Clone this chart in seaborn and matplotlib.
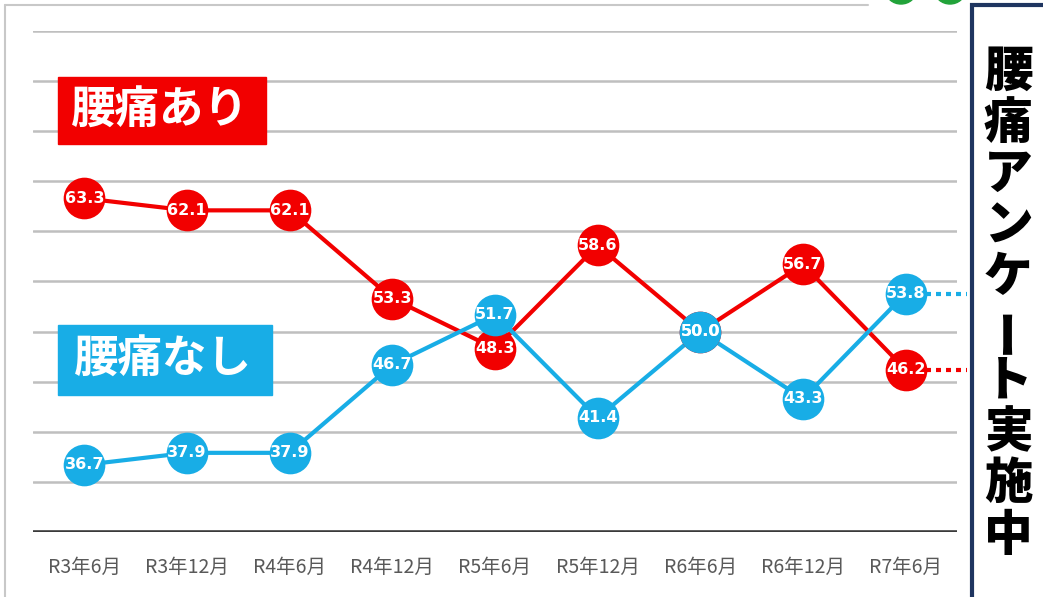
import pandas as pd
import seaborn as sns
import matplotlib.pyplot as plt
from matplotlib.patches import Ellipse, Rectangle

# Data
periods = ["R3年6月", "R3年12月", "R4年6月", "R4年12月", "R5年6月",
           "R5年12月", "R6年6月", "R6年12月", "R7年6月"]
pain_yes = [63.3, 62.1, 62.1, 53.3, 48.3, 58.6, 50.0, 56.7, 46.2]
pain_no = [36.7, 37.9, 37.9, 46.7, 51.7, 41.4, 50.0, 43.3, 53.8]
series_names = ["腰痛あり", "腰痛なし"]
series_colors = ["#f20000", "#18ade6"]

df = pd.DataFrame({
    "x": list(range(len(periods))) * 2,
    "value": pain_yes + pain_no,
    "series": [series_names[0]] * len(periods) + [series_names[1]] * len(periods),
})

sns.set_style("white")
plt.rcParams["font.family"] = ["Noto Sans CJK JP", "DejaVu Sans"]

W, H = 1043, 597
fig = plt.figure(figsize=(W / 100, H / 100), dpi=100)
ax = fig.add_axes([33 / W, (H - 532) / H, (957 - 33) / W, (532 - 31) / H])

# light gray gridlines
for yv in range(35, 81, 5):
    ax.axhline(yv, color="#bfbfbf", lw=1.8, zorder=0)
ax.axhline(30, color="#3a3a3a", lw=2.6, zorder=1)

palette = dict(zip(series_names, series_colors))
sns.lineplot(data=df, x="x", y="value", hue="series", palette=palette,
             lw=3.0, legend=False, ax=ax, zorder=2)
for name, vals in zip(series_names, [pain_yes, pain_no]):
    ax.scatter(range(len(periods)), vals, s=30 ** 2, color=palette[name],
               zorder=3, linewidths=0)
    for i, v in enumerate(vals):
        ax.text(i, v, f"{v:.1f}", color="white", ha="center", va="center",
                fontsize=11.5, fontweight="bold", family="DejaVu Sans", zorder=4)

ax.set_xlim(-0.5, len(periods) - 0.5)
ax.set_ylim(30, 80)
ax.set_yticks([])
ax.set_xticks(range(len(periods)))
ax.set_xticklabels(periods, fontsize=14, color="#595959")
ax.tick_params(axis="x", length=0, pad=18)
ax.set_xlabel("")
ax.set_ylabel("")
for s in ax.spines.values():
    s.set_visible(False)

# dotted connectors to the side panel
last = len(periods) - 1
ax.plot([last + 0.2, last + 0.6], [pain_no[-1]] * 2, ls=(0, (1.2, 1.2)),
        color=series_colors[1], lw=3, clip_on=False, zorder=2)
ax.plot([last + 0.2, last + 0.6], [pain_yes[-1]] * 2, ls=(0, (1.2, 1.2)),
        color=series_colors[0], lw=3, clip_on=False, zorder=2)

# legend boxes
fig.patches.append(Rectangle((58 / W, 1 - 144 / H), 208 / W, 67 / H,
                             transform=fig.transFigure, color=series_colors[0], zorder=5))
fig.text(160 / W, 1 - 111 / H, series_names[0], color="white", fontsize=32,
         fontweight="bold", ha="center", va="center", zorder=6)
fig.patches.append(Rectangle((58 / W, 1 - 395 / H), 214 / W, 70 / H,
                             transform=fig.transFigure, color=series_colors[1], zorder=5))
fig.text(163 / W, 1 - 360 / H, series_names[1], color="white", fontsize=32,
         fontweight="bold", ha="center", va="center", zorder=6)

# outer light frame
fig.lines.append(plt.Line2D([5 / W, 5 / W], [0, 1 - 5 / H], transform=fig.transFigure,
                            color="#c8c8c8", lw=1.5))
fig.lines.append(plt.Line2D([5 / W, 868 / W], [1 - 5 / H, 1 - 5 / H], transform=fig.transFigure,
                            color="#c8c8c8", lw=1.5))

# green blobs cut off at the top
for cx in [901, 950]:
    fig.patches.append(Ellipse((cx / W, 1 + 9 / H), 30 / W, 26 / H,
                               transform=fig.transFigure, color="#22a33a"))

# side panel
fig.patches.append(Rectangle((972 / W, -0.02), 0.2, 1 - 5 / H + 0.02,
                             transform=fig.transFigure, facecolor="white",
                             edgecolor="#1f3560", lw=3))
title = "腰痛アンケート実施中"
for k, ch in enumerate(title):
    y = 1 - (72 + k * 51.5) / H
    rot = 90 if ch == "ー" else 0
    fig.text(1008 / W, y, ch, fontsize=35, fontweight="heavy", color="black",
             ha="center", va="center", rotation=rot)

fig.savefig("out.png", dpi=100)
